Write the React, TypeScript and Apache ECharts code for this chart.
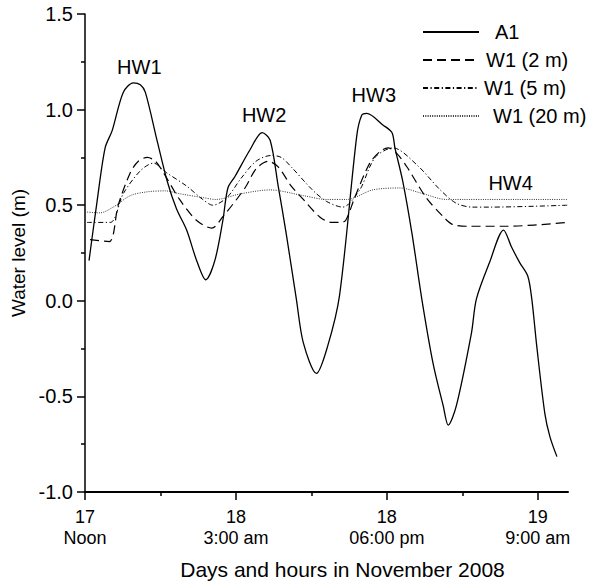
import React, { useEffect, useRef } from "react";
import * as echarts from "echarts";

// Hours after noon, 17 November 2008
const a1Hours = [0.4, 1.2, 2.0, 2.7, 3.8, 4.8, 5.5, 6.0, 7.2, 8.2, 9.1, 10.1, 11.1, 12.0, 12.9, 13.7, 14.2, 14.9, 16.4, 17.6, 18.4, 19.2, 20.0, 21.0, 21.7, 23.0, 24.1, 25.3, 27.0, 27.5, 28.0, 29.6, 30.5, 30.8, 31.6, 32.5, 33.5, 34.6, 35.6, 36.1, 36.9, 38.4, 38.9, 40.2, 41.6, 42.4, 43.2, 44.0, 44.4, 44.9, 45.7, 46.2, 46.9];
const a1Values = [0.21, 0.52, 0.80, 0.89, 1.09, 1.14, 1.13, 1.09, 0.83, 0.62, 0.48, 0.37, 0.21, 0.11, 0.21, 0.42, 0.59, 0.65, 0.79, 0.88, 0.84, 0.60, 0.35, 0.01, -0.22, -0.38, -0.24, 0.03, 0.86, 0.97, 0.98, 0.92, 0.88, 0.80, 0.62, 0.35, 0.0, -0.33, -0.55, -0.65, -0.55, -0.17, 0.01, 0.20, 0.37, 0.28, 0.20, 0.13, 0.01, -0.24, -0.59, -0.71, -0.815];

const w2Hours = [0.5, 2.4, 3.3, 4.5, 5.3, 6.2, 7.0, 7.8, 9.4, 11.1, 12.6, 13.7, 15.9, 17.0, 18.2, 19.2, 20.5, 21.7, 23.3, 24.5, 25.3, 25.9, 26.8, 28.3, 29.3, 30.1, 31.0, 32.0, 33.9, 35.6, 36.5, 38.0, 42.0, 48.0];
const w2Values = [0.32, 0.31, 0.50, 0.67, 0.73, 0.75, 0.73, 0.67, 0.53, 0.42, 0.38, 0.44, 0.59, 0.69, 0.73, 0.70, 0.60, 0.53, 0.44, 0.41, 0.41, 0.42, 0.54, 0.72, 0.78, 0.80, 0.77, 0.70, 0.54, 0.44, 0.40, 0.39, 0.39, 0.41];

const w5Hours = [0.2, 2.5, 3.8, 5.5, 6.8, 8.1, 10.1, 11.7, 12.7, 14.1, 15.5, 17.0, 18.5, 19.5, 20.5, 22.6, 24.0, 25.6, 27.3, 28.3, 29.0, 30.6, 33.0, 35.3, 36.9, 38.5, 40.2, 48.0];
const w5Values = [0.41, 0.41, 0.56, 0.68, 0.72, 0.67, 0.60, 0.53, 0.50, 0.54, 0.64, 0.73, 0.76, 0.75, 0.70, 0.58, 0.52, 0.49, 0.58, 0.70, 0.76, 0.80, 0.71, 0.58, 0.51, 0.49, 0.49, 0.50];

const w20Hours = [0.0, 1.5, 2.8, 4.5, 6.2, 8.0, 9.4, 11.7, 13.0, 15.5, 18.4, 21.7, 24.0, 26.0, 28.6, 31.3, 33.6, 35.9, 48.0];
const w20Values = [0.465, 0.46, 0.49, 0.55, 0.57, 0.575, 0.56, 0.54, 0.53, 0.56, 0.58, 0.55, 0.53, 0.53, 0.58, 0.59, 0.56, 0.53, 0.53];

const xTickHours = [0, 15, 30, 45];
const xTickLabels = ["17\nNoon", "18\n3:00 am", "18\n06:00 pm", "19\n9:00 am"];
const xMinorHours = [7.5, 22.5, 37.5];

const peakNames = ["HW1", "HW2", "HW3", "HW4"];
const peakHours = [5.4, 17.8, 28.7, 42.3];
const peakValues = [1.222, 0.971, 1.076, 0.614];

const seriesNames = ["A1", "W1 (2 m)", "W1 (5 m)", "W1 (20 m)"];

const FONT = "'Liberation Sans', Arial, Helvetica, sans-serif";

const zip = (xs: number[], ys: number[]) => xs.map((x, i) => [x, ys[i]]);

export default function App() {
  const ref = useRef<HTMLDivElement>(null);
  useEffect(() => {
    document.body.style.margin = "0";
    if (!ref.current) return;
    const chart = echarts.init(ref.current, undefined, { renderer: "svg" });
    const lineBase = {
      type: "line",
      symbol: "none",
      showSymbol: false,
      smooth: 0.3,
      clip: true,
      z: 3,
    };
    chart.setOption({
      animation: false,
      backgroundColor: "#fff",
      textStyle: { fontFamily: FONT, color: "#000" },
      grid: { left: 85, top: 14, right: 22, bottom: 93, containLabel: false, outerBoundsMode: "none" },
      legend: {
        orient: "vertical",
        left: 417,
        top: 17,
        itemWidth: 56,
        itemHeight: 14,
        itemGap: 8,
        itemStyle: { opacity: 0 },
        textStyle: { fontSize: 20, color: "#000", fontFamily: FONT },
        data: [
          { name: seriesNames[0], textStyle: { padding: [0, 0, 0, 11] } },
          { name: seriesNames[1], textStyle: { padding: [0, 0, 0, 2] } },
          { name: seriesNames[2], textStyle: { padding: [0, 0, 0, 0] } },
          { name: seriesNames[3], textStyle: { padding: [0, 0, 0, 9] } },
        ],
      },
      xAxis: [
        {
          type: "value",
          min: 0,
          max: 48,
          name: "Days and hours in November 2008",
          nameLocation: "middle",
          nameGap: 67,
          nameTextStyle: { fontSize: 21, color: "#000", fontFamily: FONT, padding: [0, 0, 0, 32] },
          axisLine: { show: true, onZero: false, lineStyle: { color: "#000", width: 2 } },
          axisTick: { show: true, length: 8, customValues: xTickHours, lineStyle: { color: "#000", width: 1.5 } },
          axisLabel: {
            customValues: xTickHours,
            fontSize: 18,
            lineHeight: 21,
            color: "#000",
            margin: 14,
            fontFamily: FONT,
            formatter: (v: number) => {
              const i = xTickHours.indexOf(v);
              return i >= 0 ? xTickLabels[i] : "";
            },
          },
          splitLine: { show: false },
        },
        {
          type: "value",
          min: 0,
          max: 48,
          position: "bottom",
          axisLine: { show: false, onZero: false },
          axisTick: { show: true, length: 4, customValues: xMinorHours, lineStyle: { color: "#000", width: 1.5 } },
          axisLabel: { show: false },
          splitLine: { show: false },
        },
      ],
      yAxis: {
        type: "value",
        min: -1,
        max: 1.5,
        interval: 0.5,
        name: "Water level (m)",
        nameLocation: "middle",
        nameGap: 53,
        nameTextStyle: { fontSize: 19, color: "#000", fontFamily: FONT },
        axisLine: { show: true, onZero: false, lineStyle: { color: "#000", width: 1.5 } },
        axisTick: { show: true, length: 8, lineStyle: { color: "#000", width: 1.5 } },
        minorTick: { show: true, splitNumber: 2, length: 4, lineStyle: { color: "#000", width: 1.5 } },
        axisLabel: {
          fontSize: 20,
          color: "#000",
          margin: 12,
          fontFamily: FONT,
          formatter: (v: number) => v.toFixed(1),
        },
        splitLine: { show: false },
      },
      series: [
        {
          ...lineBase,
          name: seriesNames[0],
          data: zip(a1Hours, a1Values),
          lineStyle: { color: "#000", width: 1.3, type: "solid" },
          itemStyle: { color: "#000" },
        },
        {
          ...lineBase,
          name: seriesNames[1],
          data: zip(w2Hours, w2Values),
          lineStyle: { color: "#000", width: 1.2, type: [9, 5] },
          itemStyle: { color: "#000" },
        },
        {
          ...lineBase,
          name: seriesNames[2],
          data: zip(w5Hours, w5Values),
          lineStyle: { color: "#000", width: 1, type: [5, 2.5, 1.2, 2.5] },
          itemStyle: { color: "#000" },
        },
        {
          ...lineBase,
          name: seriesNames[3],
          data: zip(w20Hours, w20Values),
          lineStyle: { color: "#333", width: 1, type: [1, 1.3] },
          itemStyle: { color: "#333" },
        },
        {
          type: "scatter",
          name: "peaks",
          symbol: "circle",
          symbolSize: 1,
          itemStyle: { color: "#fff", opacity: 0 },
          data: peakNames.map((n, i) => ({ name: n, value: [peakHours[i], peakValues[i]] })),
          label: {
            show: true,
            position: "inside",
            formatter: "{b}",
            fontSize: 20,
            color: "#000",
            opacity: 1,
            textBorderWidth: 0,
            fontFamily: FONT,
          },
          z: 5,
        },
      ],
    });
    return () => chart.dispose();
  }, []);
  return <div ref={ref} style={{ width: 590, height: 585 }} />;
}
